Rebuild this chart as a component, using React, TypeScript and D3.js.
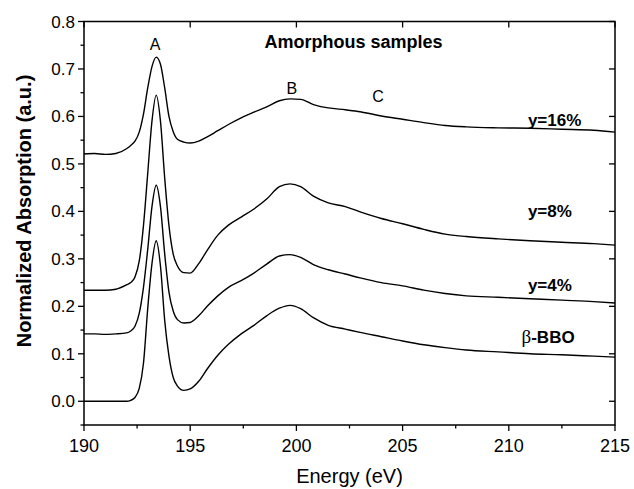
import React from "react";
import * as d3 from "d3";

const energy = [190, 190.5, 191, 191.5, 192, 192.2, 192.4, 192.6, 192.8, 193.0, 193.2, 193.4, 193.6, 193.8, 194.0, 194.2, 194.4, 194.7, 195.0, 195.4, 195.8, 196.3, 196.8, 197.4, 198.0, 198.6, 199.2, 199.7, 200.2, 200.8, 201.5, 202.3, 203.0, 204.0, 205.0, 206.0, 207.0, 208.0, 209.5, 211.0, 212.5, 214.0, 215];

const y16 = [0.521, 0.522, 0.520, 0.522, 0.532, 0.539, 0.548, 0.567, 0.605, 0.66, 0.705, 0.725, 0.71, 0.66, 0.6, 0.568, 0.552, 0.546, 0.544, 0.548, 0.557, 0.57, 0.583, 0.597, 0.609, 0.62, 0.633, 0.637, 0.636, 0.625, 0.618, 0.614, 0.61, 0.601, 0.594, 0.587, 0.581, 0.578, 0.576, 0.575, 0.573, 0.571, 0.567];
const y8 = [0.234, 0.234, 0.234, 0.236, 0.245, 0.25, 0.262, 0.295, 0.37, 0.48, 0.59, 0.645, 0.59, 0.47, 0.37, 0.31, 0.285, 0.271, 0.27, 0.29, 0.318, 0.35, 0.371, 0.388, 0.405, 0.426, 0.452, 0.458, 0.452, 0.432, 0.418, 0.41, 0.399, 0.385, 0.374, 0.362, 0.352, 0.347, 0.342, 0.338, 0.335, 0.332, 0.329];
const y4 = [0.142, 0.142, 0.141, 0.142, 0.144, 0.148, 0.158, 0.185, 0.24, 0.32, 0.41, 0.455, 0.41, 0.31, 0.23, 0.19, 0.172, 0.165, 0.166, 0.18, 0.2, 0.222, 0.24, 0.254, 0.27, 0.289, 0.306, 0.309, 0.303, 0.288, 0.277, 0.268, 0.26, 0.25, 0.243, 0.234, 0.227, 0.222, 0.219, 0.216, 0.213, 0.21, 0.207];
const bbo = [0.0, 0.0, 0.0, 0.0, 0.0, 0.002, 0.008, 0.027, 0.08, 0.195, 0.29, 0.338, 0.285, 0.17, 0.095, 0.05, 0.032, 0.023, 0.026, 0.042, 0.068, 0.097, 0.12, 0.142, 0.16, 0.18, 0.196, 0.202, 0.195, 0.176, 0.16, 0.152, 0.145, 0.136, 0.127, 0.119, 0.113, 0.108, 0.104, 0.1, 0.098, 0.095, 0.093];

const seriesList = [y16, y8, y4, bbo];
const seriesNames = ["y=16%", "y=8%", "y=4%", "-BBO"];
const seriesPrefix = ["", "", "", "β"];
const nameAnchors = [[210.9, 0.58], [210.9, 0.389], [210.9, 0.232], [210.6, 0.123]];

const peakNames = ["A", "B", "C"];
const peakAnchors = [[193.35, 0.74], [199.78, 0.648], [203.84, 0.63]];

const xMajor = [190, 195, 200, 205, 210, 215];
const xMinor = [192.5, 197.5, 202.5, 207.5, 212.5];
const yMajor = [0.0, 0.1, 0.2, 0.3, 0.4, 0.5, 0.6, 0.7, 0.8];
const yMinor = [-0.05, 0.05, 0.15, 0.25, 0.35, 0.45, 0.55, 0.65, 0.75];

const W = 634, H = 489;
const L = 84, R = 615, T = 21.5, B = 425;
const FONT = "'Liberation Sans', Arial, sans-serif";
const SERIF = "'Liberation Serif', 'Times New Roman', serif";

export default function App() {
  const x = d3.scaleLinear().domain([190, 215]).range([L, R]);
  const y = d3.scaleLinear().domain([-0.05, 0.8]).range([B, T]);
  const line = d3
    .line<number>()
    .x((_, i) => x(energy[i]))
    .y((d) => y(d))
    .curve(d3.curveMonotoneX);

  return (
    <svg width={W} height={H} style={{ position: "absolute", left: 0, top: 0, background: "#fff" }}>
      <rect x={0} y={0} width={W} height={H} fill="#fff" />
      {seriesList.map((s, i) => (
        <path key={i} d={line(s) || ""} fill="none" stroke="#000" strokeWidth={1.4} strokeLinejoin="round" />
      ))}
      <rect x={L} y={T} width={R - L} height={B - T} fill="none" stroke="#000" strokeWidth={1.5} />
      {xMajor.map((v) => (
        <g key={"xm" + v}>
          <line x1={x(v)} x2={x(v)} y1={B} y2={B + 6} stroke="#000" strokeWidth={1.3} />
          <line x1={x(v)} x2={x(v)} y1={T} y2={T + 6} stroke="#000" strokeWidth={1.3} />
          <text x={x(v)} y={452} textAnchor="middle" fontFamily={FONT} fontSize={18} fill="#000">
            {v}
          </text>
        </g>
      ))}
      {xMinor.map((v) => (
        <line key={"xn" + v} x1={x(v)} x2={x(v)} y1={B} y2={B + 3.5} stroke="#000" strokeWidth={1.3} />
      ))}
      {yMajor.map((v) => (
        <g key={"ym" + v}>
          <line x1={L - 6} x2={L} y1={y(v)} y2={y(v)} stroke="#000" strokeWidth={1.3} />
          <line x1={R - 6} x2={R} y1={y(v)} y2={y(v)} stroke="#000" strokeWidth={1.3} />
          <text x={L - 9} y={y(v) + 6} textAnchor="end" fontFamily={FONT} fontSize={17} fill="#000">
            {d3.format(".1f")(v)}
          </text>
        </g>
      ))}
      {yMinor.map((v) => (
        <line key={"yn" + v} x1={L - 3.5} x2={L} y1={y(v)} y2={y(v)} stroke="#000" strokeWidth={1.3} />
      ))}
      <text x={(L + R) / 2} y={483} textAnchor="middle" fontFamily={FONT} fontSize={20} fill="#000">
        Energy (eV)
      </text>
      <text
        transform={`translate(31,211) rotate(-90)`}
        textAnchor="middle"
        fontFamily={FONT}
        fontSize={20}
        fontWeight="bold"
        fill="#000"
      >
        Normalized Absorption (a.u.)
      </text>
      {peakNames.map((n, i) => (
        <text key={n} x={x(peakAnchors[i][0])} y={y(peakAnchors[i][1])} textAnchor="middle" fontFamily={FONT} fontSize={16} fill="#000">
          {n}
        </text>
      ))}
      <text x={x(198.5)} y={y(0.744)} fontFamily={FONT} fontSize={18} fontWeight="bold" fill="#000">
        Amorphous samples
      </text>
      {seriesNames.map((n, i) => (
        <text key={n} x={x(nameAnchors[i][0])} y={y(nameAnchors[i][1])} fontFamily={FONT} fontSize={17} fontWeight="bold" fill="#000">
          {seriesPrefix[i] ? (
            <tspan fontFamily={SERIF} fontWeight="normal" fontSize={19}>
              {seriesPrefix[i]}
            </tspan>
          ) : null}
          <tspan>{n}</tspan>
        </text>
      ))}
    </svg>
  );
}
